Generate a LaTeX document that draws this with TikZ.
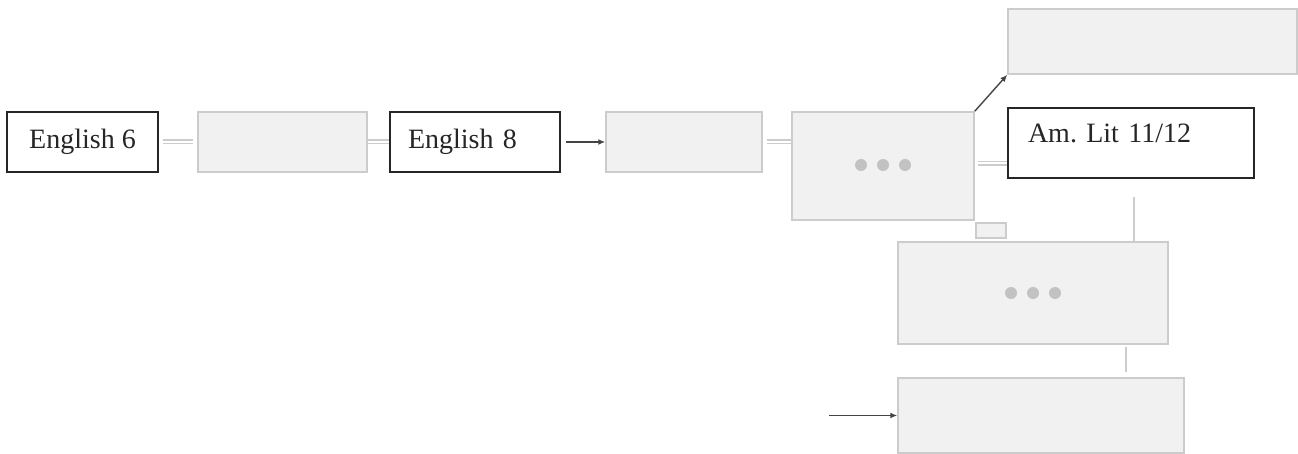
\documentclass[tikz,border=0pt]{standalone}
\usepackage{fontspec}
\setmainfont{Liberation Serif}
\usetikzlibrary{arrows.meta}
\definecolor{gfill}{HTML}{F1F1F1}
\definecolor{gdraw}{HTML}{CCCCCC}
\definecolor{dotc}{HTML}{C2C2C2}
\definecolor{arr}{HTML}{444444}
\begin{document}
\frenchspacing
\begin{tikzpicture}[x=1pt,y=-1pt,
  gbox/.style={draw=gdraw,fill=gfill,line width=1.5pt,inner sep=0pt,rectangle},
  kbox/.style={draw=black!85,fill=white,line width=1.8pt,rectangle,inner ysep=0pt,
    text=black!85,font=\fontsize{28}{32}\selectfont\frenchspacing},
  conn/.style={draw=gdraw,double=white,line width=1.5pt,double distance=2pt},
  gline/.style={draw=gdraw,line width=1.5pt},
  arrow/.style={draw=arr,line width=1.4pt,-{Latex[length=7pt,width=6pt]}},
  dot/.style={circle,fill=dotc,inner sep=0pt,minimum size=12pt}]
\useasboundingbox (0,0) rectangle (1298,454);
% nodes
\node[kbox,minimum width=151pt,minimum height=60pt,inner xsep=0pt] (e6) at (82.5,142) {English 6};
\node[gbox,minimum width=169pt,minimum height=60pt] (b2) at (282.5,142) {};
\node[kbox,minimum height=60pt,inner xsep=18pt,text width=134pt,align=left] (e8) at (475,142) {\mbox{English 8}};
\node[gbox,minimum width=156pt,minimum height=60pt] (b4) at (684,142) {};
\node[gbox,minimum width=182pt,minimum height=108pt] (b5) at (883,166) {};
\node[dot] (d51) at (861,165) {};
\node[dot] (d52) at (883,165) {};
\node[dot] (d53) at (905,165) {};
\node[gbox,minimum width=30pt,minimum height=15pt] (sm) at (991,230.5) {};
\node[gbox,minimum width=289pt,minimum height=65pt] (tr) at (1152.5,41.5) {};
\node[kbox,minimum height=70pt,inner xsep=20pt,text width=206pt,align=left,
  text height=20pt,text depth=20pt] (al) at (1131,143) {\mbox{Am. Lit 11/12}};
\node[gbox,minimum width=270pt,minimum height=102pt] (b6) at (1033,293) {};
\node[dot] (d61) at (1011,293) {};
\node[dot] (d62) at (1033,293) {};
\node[dot] (d63) at (1055,293) {};
\node[gbox,minimum width=286pt,minimum height=75pt] (b7) at (1041,415.5) {};
\coordinate (v1) at (1134,197);
\coordinate (v2) at (1126,347);
\coordinate (s7) at (829,415.5);
% connectors
\draw[conn,shorten <=4pt,shorten >=4pt] (e6.east) -- (b2.west);
\draw[conn] (b2.east) -- (e8.west);
\draw[arrow,shorten <=5pt] (e8.east) -- (b4.west);
\draw[conn,shorten <=4pt] (b4.east) -- (b4.east -| b5.west);
\draw[conn,shorten <=3pt] ([yshift=2.5pt]b5.east) -- ([yshift=2.5pt]b5.east -| al.west);
\draw[arrow] (b5.north east) -- (tr.south west);
\draw[gline] (v1) -- (v1 |- b6.north);
\draw[gline,shorten >=5pt] (v2) -- (v2 |- b7.north);
\draw[arrow] (s7) -- (b7.west);
\end{tikzpicture}
\end{document}
